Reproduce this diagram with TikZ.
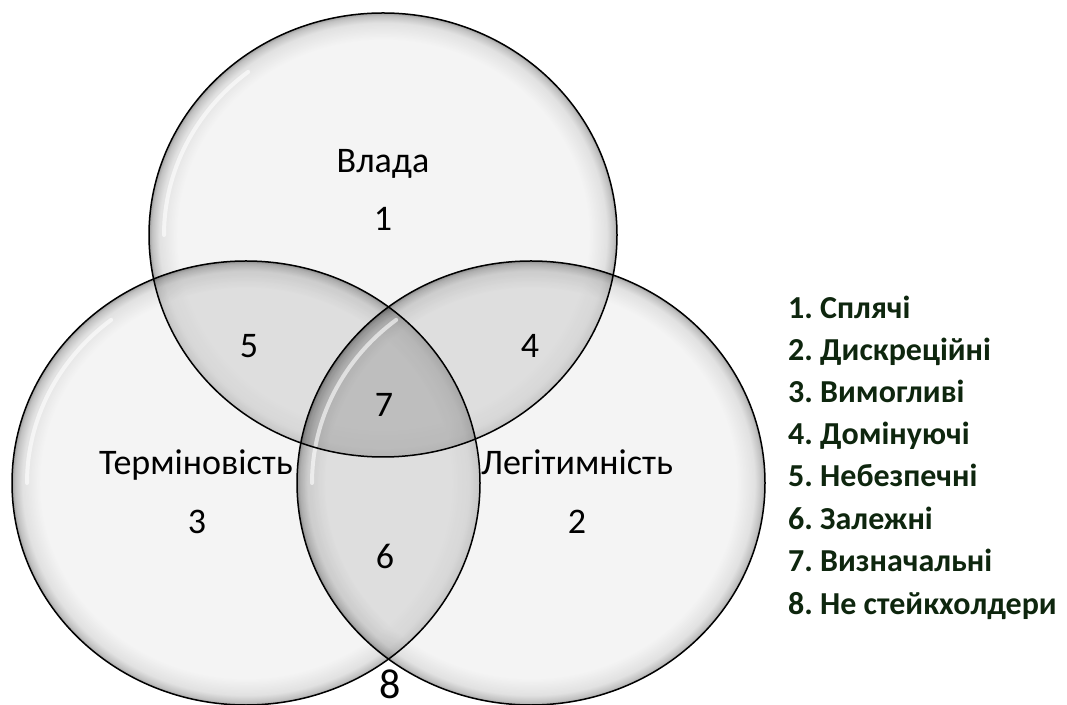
\documentclass[tikz,border=0pt]{standalone}
\usepackage{fontspec}
\setmainfont{Carlito}
\usetikzlibrary{shapes.geometric}
\frenchspacing
\definecolor{bc0}{RGB}{236,236,236}
\definecolor{bc1}{RGB}{205,205,205}
\definecolor{bc2}{RGB}{150,150,150}
\definecolor{bc3}{RGB}{95,95,95}
\definecolor{legc}{RGB}{14,38,14}
\pgfdeclareradialshading{bubble}{\pgfpoint{0bp}{0bp}}{color(0bp)=(bc0); color(22bp)=(bc0); color(23.9bp)=(bc1); color(24.7bp)=(bc2); color(25bp)=(bc3); color(50bp)=(bc3)}
\begin{document}
\begin{tikzpicture}[x=1pt,y=1pt,
  bubble/.style={ellipse, inner sep=0pt, minimum width=468pt, minimum height=444pt, shade, shading=bubble, fill opacity=0.6},
  outline/.style={draw=black, line width=1.5pt},
  overlap/.style={fill=black, fill opacity=0.07},
  gloss/.style={white, line width=4pt, opacity=0.6, line cap=round},
  lab/.style={font=\fontsize{36}{42}\selectfont, anchor=base, inner sep=1pt},
  leg/.style={font=\bfseries\fontsize{32}{36}\selectfont, text=legc, anchor=base west, inner sep=1pt}]
\useasboundingbox (0,0) rectangle (1067,704);
% circles
\node[bubble] (top) at (383,469) {};
\node[bubble] (left) at (246,221) {};
\node[bubble] (right) at (531,221) {};
% overlap darkening
\begin{scope}
  \clip (top.center) ellipse [x radius=234, y radius=222];
  \fill[overlap] (left.center) ellipse [x radius=234, y radius=222];
  \fill[overlap] (right.center) ellipse [x radius=234, y radius=222];
\end{scope}
\begin{scope}
  \clip (left.center) ellipse [x radius=234, y radius=222];
  \fill[overlap] (right.center) ellipse [x radius=234, y radius=222];
\end{scope}
% gloss highlights
\draw[gloss] ([shift={(-219,0)}]top.center) arc[start angle=180, end angle=128, x radius=219, y radius=207];
\draw[gloss] ([shift={(-219,0)}]left.center) arc[start angle=180, end angle=128, x radius=219, y radius=207];
\draw[gloss] ([shift={(-219,0)}]right.center) arc[start angle=180, end angle=128, x radius=219, y radius=207];
% outlines
\draw[outline] (top.center) ellipse [x radius=234, y radius=222];
\draw[outline] (left.center) ellipse [x radius=234, y radius=222];
\draw[outline] (right.center) ellipse [x radius=234, y radius=222];
% labels
\node[lab] (tv) at (383,531) {Влада};
\node[lab] (t1) at (383,473) {1};
\node[lab] (t5) at (249,346) {5};
\node[lab] (t4) at (530,346) {4};
\node[lab] (t7) at (384,287) {7};
\node[lab] (tt) at (196,229) {Терміновість};
\node[lab] (tl) at (577,229) {Легітимність};
\node[lab] (t3) at (197,171) {3};
\node[lab] (t2) at (577,171) {2};
\node[lab] (t6) at (385,136) {6};
\node[lab, font=\fontsize{42}{48}\selectfont] (t8) at (390,6) {8};
% legend
\node[leg] (l1) at (787,385) {1. Сплячі};
\node[leg] (l2) at (787,343) {2. Дискреційні};
\node[leg] (l3) at (787,301) {3. Вимогливі};
\node[leg] (l4) at (787,259) {4. Домінуючі};
\node[leg] (l5) at (787,217) {5. Небезпечні};
\node[leg] (l6) at (787,174) {6. Залежні};
\node[leg] (l7) at (787,132) {7. Визначальні};
\node[leg] (l8) at (787,90) {8. Не стейкхолдери};
\end{tikzpicture}
\end{document}
